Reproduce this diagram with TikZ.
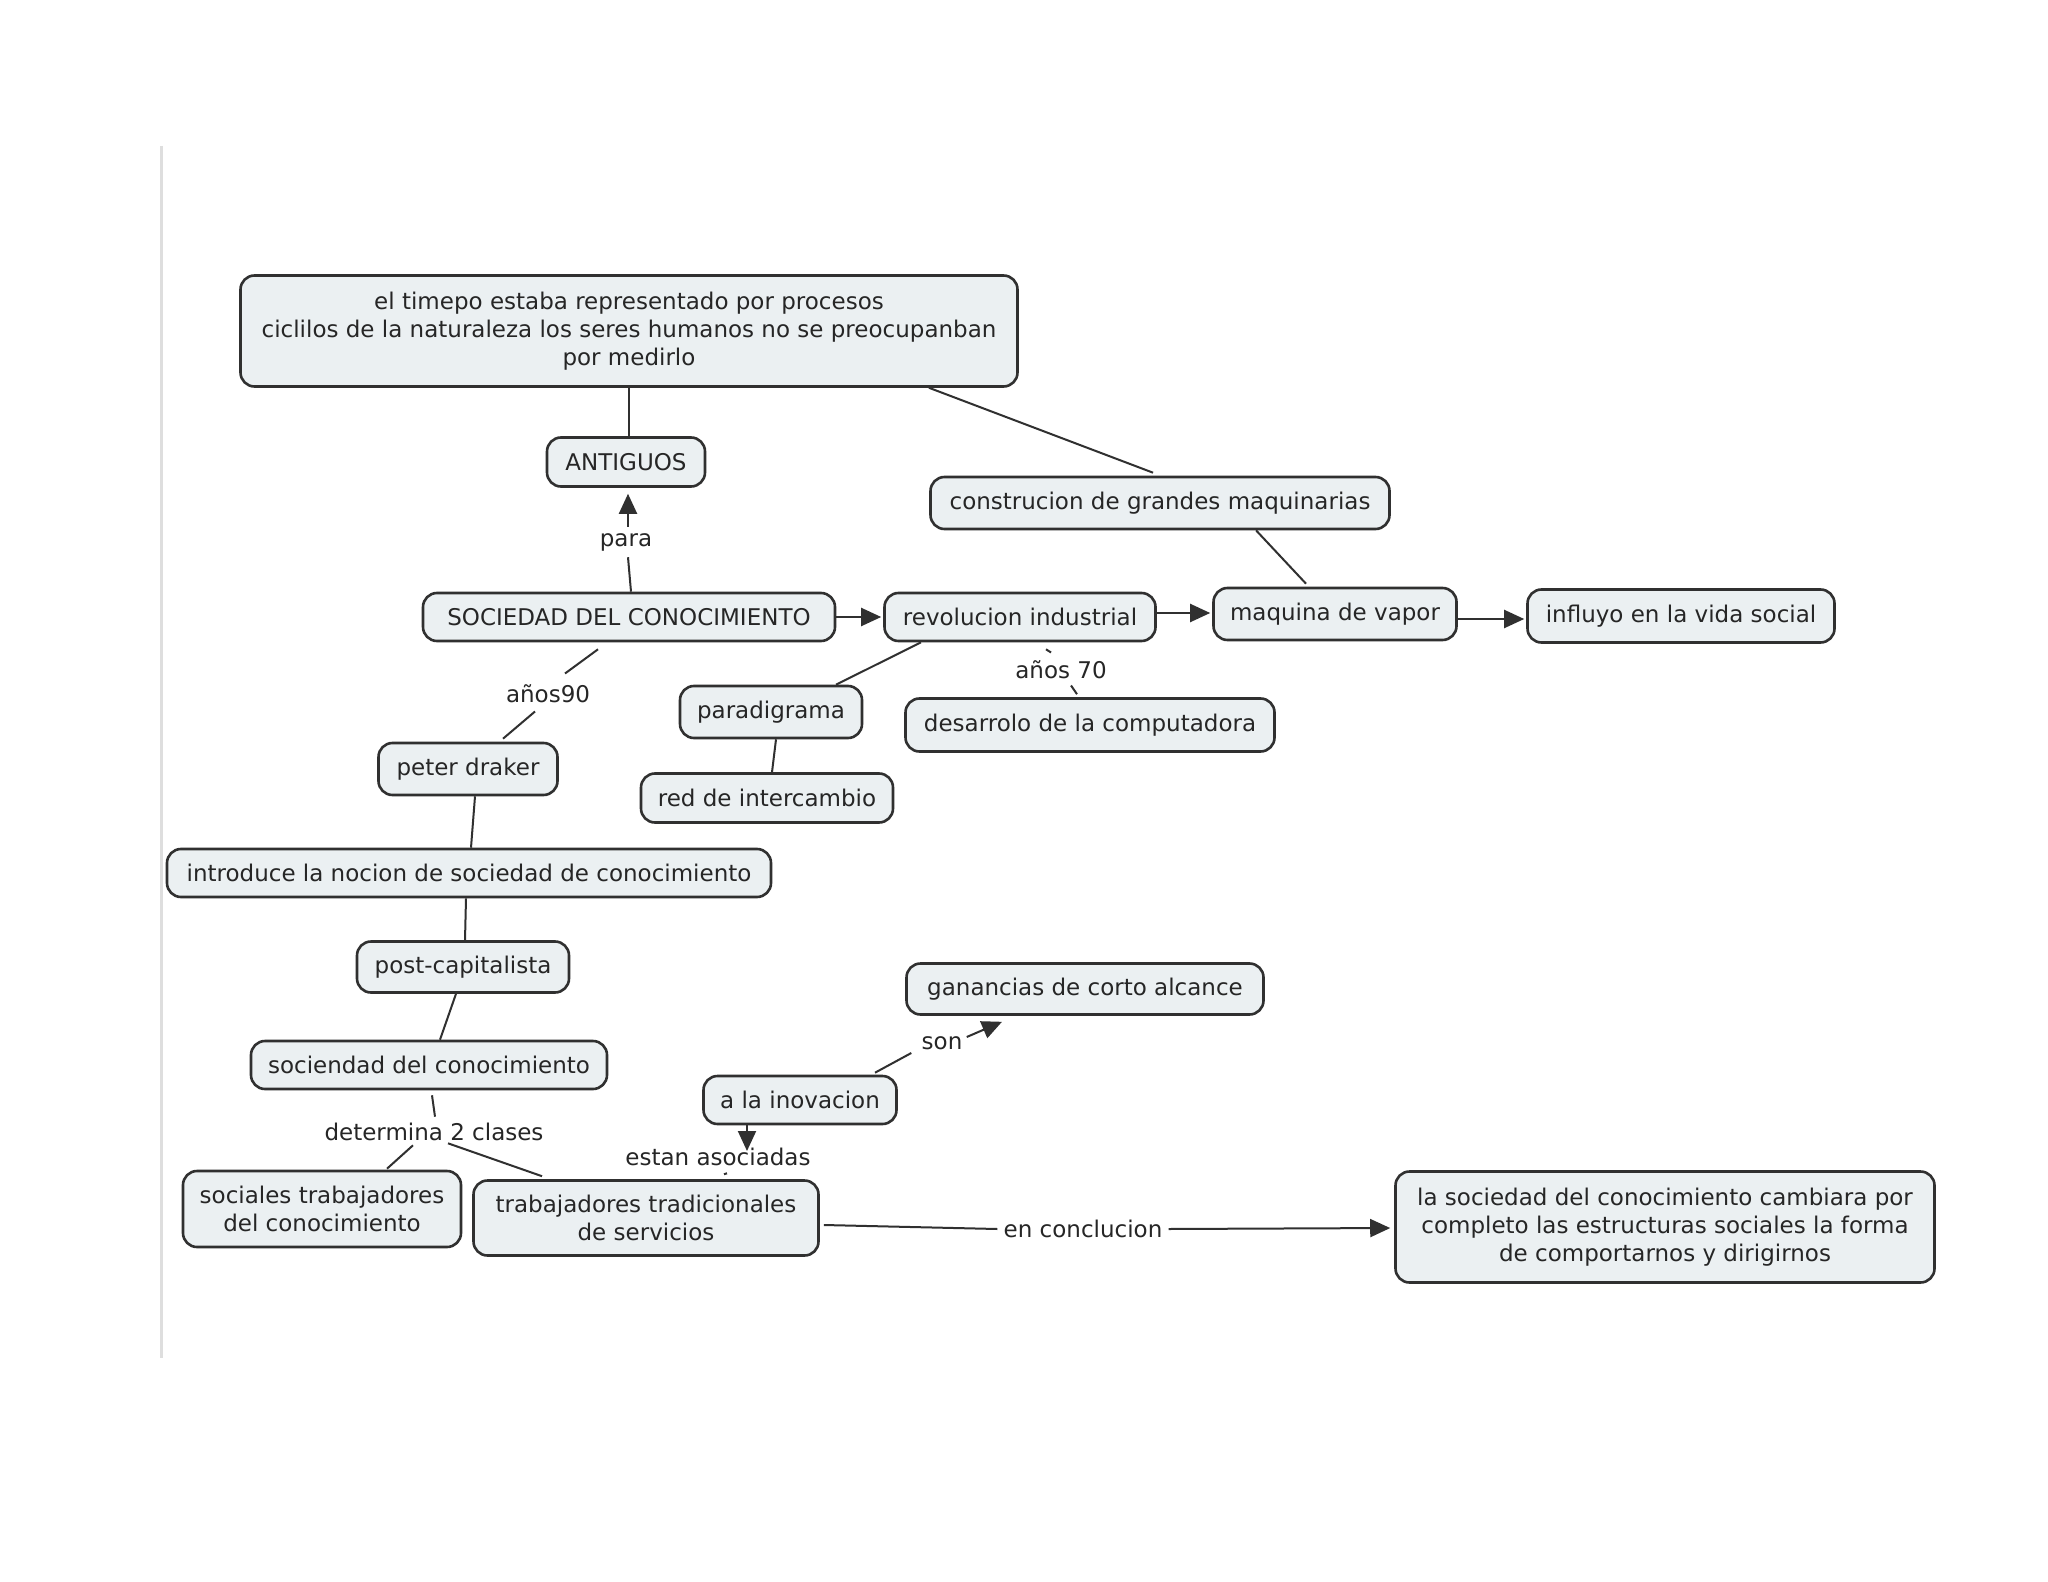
\documentclass[tikz,border=0pt]{standalone}
\usepackage{fontspec}
\setmainfont{DejaVu Sans}
\usetikzlibrary{calc,arrows.meta}
\definecolor{boxfill}{HTML}{EBF0F2}
\definecolor{boxline}{HTML}{303030}
\definecolor{txt}{HTML}{262626}
\tikzset{
  concept/.style={draw=boxline, line width=1.3pt, fill=boxfill, rounded corners=7pt,
    inner sep=0pt, align=center, text=txt, font=\fontsize{11.5}{14}\selectfont},
  lbl/.style={inner sep=3pt, text=txt, font=\fontsize{11.5}{14}\selectfont},
  link/.style={draw=boxline, line width=1pt},
  arr/.style={link, -{Triangle[length=10pt,width=9pt]}},
}
\newcommand{\cbox}[6]{\node[concept, minimum width=#4*0.5pt, minimum height=#5*0.5pt] (#1) at (#2,#3) {#6};}
\begin{document}
\begin{tikzpicture}[x=0.5pt,y=-0.5pt]
\useasboundingbox[fill=white] (0,0) rectangle (2048,1582);
\draw[line width=1.5pt, draw=black!13] (161,146) -- (161,1358);

\cbox{top}{629}{331}{777}{111}{el timepo estaba representado por procesos\\ciclilos de la naturaleza los seres humanos no se preocupanban\\por medirlo}
\cbox{ant}{626}{462}{158}{49}{ANTIGUOS}
\cbox{cons}{1160}{503}{459}{52}{construcion de grandes maquinarias}
\cbox{soc}{629}{617}{412}{48}{SOCIEDAD DEL CONOCIMIENTO}
\cbox{rev}{1020}{617}{271}{48}{revolucion industrial}
\cbox{maq}{1335}{614}{243}{52}{maquina de vapor}
\cbox{inf}{1681}{616}{307}{53}{influyo en la vida social}
\cbox{par}{771}{712}{182}{52}{paradigrama}
\cbox{des}{1090}{725}{369}{53}{desarrolo de la computadora}
\cbox{pet}{468}{769}{179}{52}{peter draker}
\cbox{red}{767}{798}{252}{49}{red de intercambio}
\cbox{intro}{469}{873}{604}{48}{introduce la nocion de sociedad de conocimiento}
\cbox{post}{463}{967}{212}{51}{post-capitalista}
\cbox{gan}{1085}{989}{357}{51}{ganancias de corto alcance}
\cbox{soctwo}{429}{1065}{356}{48}{sociendad del conocimiento}
\cbox{inov}{800}{1100}{193}{48}{a la inovacion}
\cbox{socT}{322}{1209}{278}{76}{sociales trabajadores\\del conocimiento}
\cbox{trad}{646}{1218}{345}{75}{trabajadores tradicionales\\de servicios}
\cbox{fin}{1665}{1227}{539}{111}{la sociedad del conocimiento cambiara por\\completo las estructuras sociales la forma\\de comportarnos y dirigirnos}

\node[lbl] (para) at (626,542) {para};
\node[lbl] (a90) at (548,694) {años90};
\node[lbl] (a70) at (1061,670) {años 70};
\node[lbl] (det) at (434,1132) {determina 2 clases};
\node[lbl] (estan) at (718,1157) {estan asociadas};
\node[lbl] (son) at (942,1043) {son};
\node[lbl] (concl) at (1083,1229) {en conclucion};

% connectors
\draw[link] (top.south) -- ($(ant.north)+(3,0)$);
\draw[link] ($(top.south)+(300,0)$) -- ($(cons.north)+(-7,-3)$);
\draw[link] ($(soc.north)+(2,0)$) -- ($(para.south)+(2,0)$);
\draw[arr, shorten >=3pt] ($(para.north)+(2,0)$) -- ($(ant.south)+(2,0)$);
\draw[arr, shorten >=1pt] (soc.east) -- (rev.west);
\draw[arr, shorten >=1pt] ($(rev.east)+(0,-4)$) -- ($(maq.west)+(0,-1)$);
\draw[link] ($(cons.south)+(96,0)$) -- ($(maq.north)+(-29,-3)$);
\draw[arr, shorten >=1pt] ($(maq.east)+(0,5)$) -- ($(inf.west)+(0,3)$);
\draw[link] ($(rev.south)+(-99,0)$) -- ($(par.north)+(65,0)$);
\draw[link] ($(par.south)+(5,0)$) -- ($(red.north)+(5,0)$);
\draw[link] ($(rev.south)+(26,7)$) -- ($(a70.north)+(-10,-2)$);
\draw[link] ($(a70.south)+(10,0)$) -- ($(des.north)+(-13,-3)$);
\draw[link] ($(soc.south)+(-31,7)$) -- ($(a90.north)+(17,-5)$);
\draw[link] ($(a90.south)+(-13,2)$) -- ($(pet.north)+(35,-3)$);
\draw[link] ($(pet.south)+(7,0)$) -- ($(intro.north)+(2,0)$);
\draw[link] ($(intro.south)+(-3,0)$) -- ($(post.north)+(2,0)$);
\draw[link] ($(post.south)+(-7,0)$) -- ($(soctwo.north)+(11,0)$);
\draw[link] ($(soctwo.south)+(3,5)$) -- ($(det.north)+(1,0)$);
\draw[link] ($(det.south)+(-21,-2)$) -- ($(socT.north)+(65,-1)$);
\draw[link] ($(det.south)+(14,-4)$) -- ($(trad.north)+(-104,-3)$);
\draw[link] ($(trad.north)+(78,-5)$) -- ($(estan.south)+(9,1)$);
\draw[arr] ($(inov.south)+(-53,0)$) -- ($(estan.center)+(29,-6)$);
\draw[link] ($(inov.north)+(75,-2)$) -- ($(son.west)+(-4,10)$);
\draw[arr] ($(son.east)+(-2,-6)$) -- ($(gan.south)+(-83,6)$);
\draw[link] ($(trad.east)+(4,7)$) -- (concl.west);
\draw[arr, shorten >=2pt] (concl.east) -- ($(fin.west)+(0,1)$);
\end{tikzpicture}
\end{document}
